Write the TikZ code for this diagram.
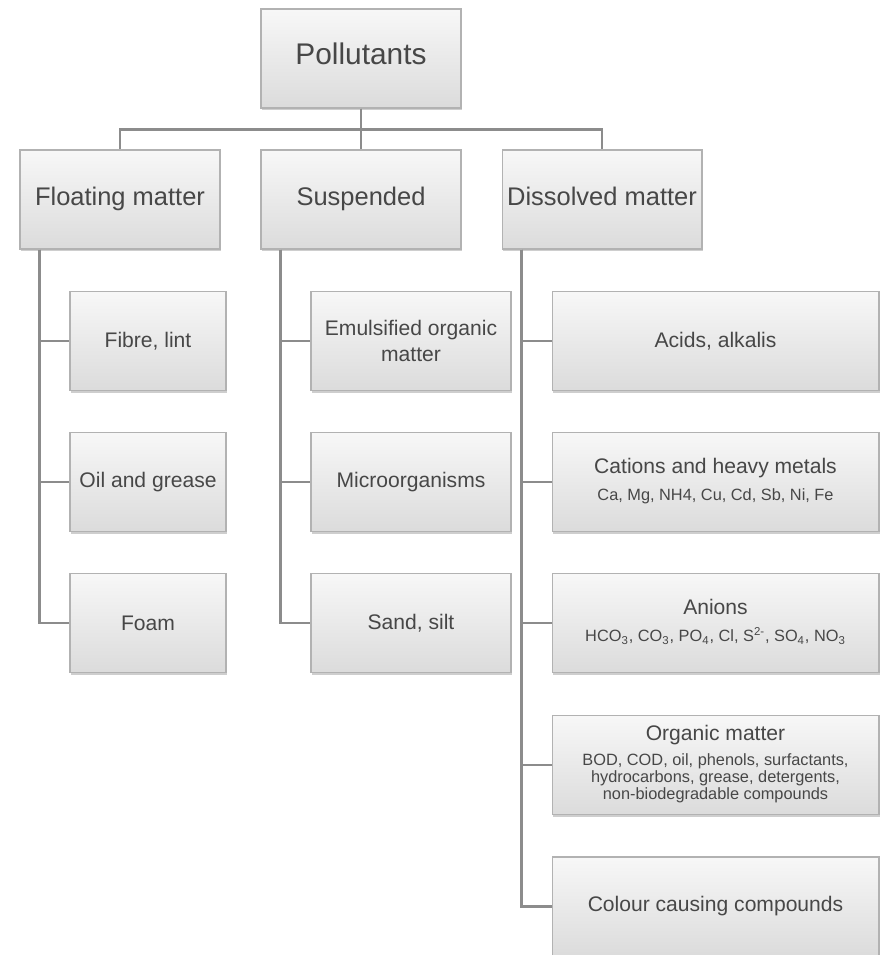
\documentclass[tikz,border=0pt]{standalone}
\usepackage{fontspec}
\setmainfont{Liberation Sans}
\usetikzlibrary{shadows}

\newcommand{\smalltxt}[1]{{\fontsize{9.3}{9.6}\selectfont\begin{tabular}[t]{@{}c@{}}#1\end{tabular}}}

\begin{document}
\begin{tikzpicture} %Pollutants tree
  [x=0.02cm, y=-0.02cm,
    % styles for the boxes and the lines
    box/.style={draw=black!30, line width=0.6pt, top color=black!3, bottom color=black!14,
      text=black!72, align=center, inner sep=1pt, minimum height=1.98cm,
      drop shadow={shadow xshift=0.5pt, shadow yshift=-1.2pt, opacity=0.35, fill=black!55}},
    top/.style={box, minimum width=4cm, text height=0.72em, text depth=0pt, font=\fontsize{17}{20}\selectfont},
    main/.style={box, minimum width=4cm, text height=0.72em, text depth=0pt, font=\fontsize{14.5}{17}\selectfont},
    leaf/.style={box, font=\fontsize{12}{14.5}\selectfont},
    link/.style={draw=black!45, line width=1.6pt}
  ]
  \useasboundingbox (0,0) rectangle (880,955);
  \clip (0,0) rectangle (880,955);

  \node[top] (poll) at (361,58.5) {Pollutants};
  \node[main] (float) at (120,199.5) {Floating matter};
  \node[main] (susp) at (361,199.5) {Suspended};
  \node[main] (diss) at (602,199.5) {Dissolved matter};

  \node[leaf, minimum width=3.12cm] (fibre) at (148,341) {Fibre, lint};
  \node[leaf, minimum width=3.12cm] (oil) at (148,482) {Oil and grease};
  \node[leaf, minimum width=3.12cm] (foam) at (148,623) {Foam};

  \node[leaf, minimum width=4cm] (emul) at (411,341) {Emulsified organic\\matter};
  \node[leaf, minimum width=4cm] (micro) at (411,482) {Microorganisms};
  \node[leaf, minimum width=4cm] (sand) at (411,623) {Sand, silt};

  \node[leaf, minimum width=6.54cm] (acid) at (715.5,341) {Acids, alkalis};
  \node[leaf, minimum width=6.54cm] (cat) at (715.5,482)
    {Cations and heavy metals\\[1pt]\smalltxt{Ca, Mg, NH4, Cu, Cd, Sb, Ni, Fe}};
  \node[leaf, minimum width=6.54cm] (anion) at (715.5,623)
    {Anions\\[1pt]\smalltxt{HCO\textsubscript{3}, CO\textsubscript{3}, PO\textsubscript{4}, Cl, S\textsuperscript{2-}, SO\textsubscript{4}, NO\textsubscript{3}}};
  \node[leaf, minimum width=6.54cm] (org) at (715.5,765)
    {Organic matter\\[0pt]\smalltxt{BOD, COD, oil, phenols, surfactants,\\hydrocarbons, grease, detergents,\\non-biodegradable compounds}};
  \node[leaf, minimum width=6.54cm] (colour) at (715.5,906.5) {Colour causing compounds};

  \draw[link] (poll.south) -- ++(0,21) -| (float.north);
  \draw[link] (poll.south) -- ++(0,21) -| (diss.north);
  \draw[link] (poll.south) -- (susp.north);

  \draw[link] ([xshift=0.4cm]float.south west) |- (fibre.west);
  \draw[link] ([xshift=0.4cm]float.south west) |- (oil.west);
  \draw[link] ([xshift=0.4cm]float.south west) |- (foam.west);
  \draw[link] ([xshift=0.4cm]susp.south west) |- (emul.west);
  \draw[link] ([xshift=0.4cm]susp.south west) |- (micro.west);
  \draw[link] ([xshift=0.4cm]susp.south west) |- (sand.west);
  \draw[link] ([xshift=0.4cm]diss.south west) |- (acid.west);
  \draw[link] ([xshift=0.4cm]diss.south west) |- (cat.west);
  \draw[link] ([xshift=0.4cm]diss.south west) |- (anion.west);
  \draw[link] ([xshift=0.4cm]diss.south west) |- (org.west);
  \draw[link] ([xshift=0.4cm]diss.south west) |- (colour.west);

\end{tikzpicture}
\end{document}
